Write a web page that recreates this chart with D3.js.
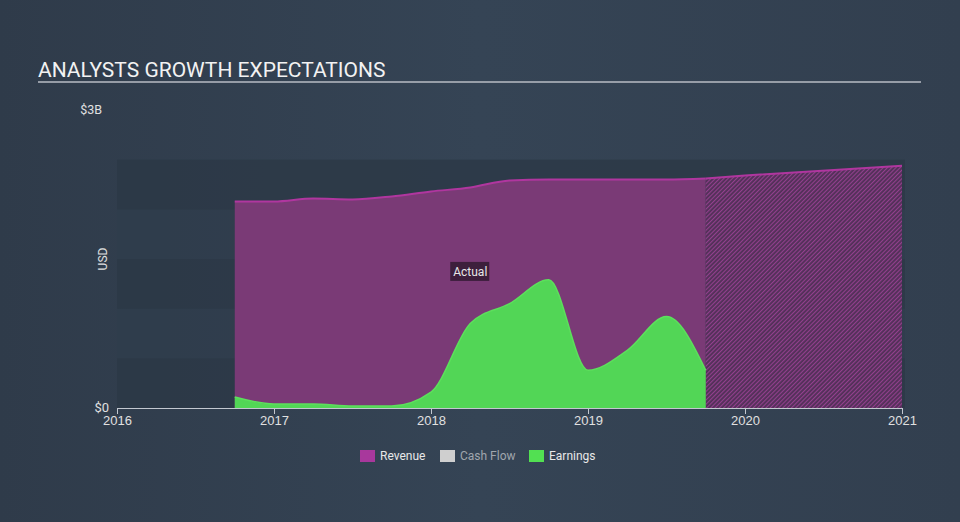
<!DOCTYPE html>
<html>
<head>
<meta charset="utf-8">
<script src="https://cdn.jsdelivr.net/npm/d3@7"></script>
<style>
  body { margin: 0; background: #333f4f; font-family: Roboto, "Open Sans", sans-serif; }
  svg { display: block; }
</style>
</head>
<body>
<div class="canvas"></div>
<script>
// fractional years
const revenueDates = [2016.75, 2017.0, 2017.25, 2017.5, 2017.75, 2018.0, 2018.25, 2018.5, 2018.75, 2019.0, 2019.25, 2019.5, 2019.75]
const revenueValues = [2.08, 2.08, 2.11, 2.10, 2.13, 2.18, 2.22, 2.29, 2.30, 2.30, 2.30, 2.30, 2.31]
const forecastDates = [2019.75, 2020.0, 2021.0]
const forecastValues = [2.31, 2.34, 2.44]
const earningsDates = [2016.75, 2017.0, 2017.25, 2017.5, 2017.75, 2018.0, 2018.25, 2018.5, 2018.75, 2019.0, 2019.25, 2019.5, 2019.75]
const earningsValues = [0.11, 0.04, 0.04, 0.02, 0.02, 0.16, 0.85, 1.05, 1.29, 0.38, 0.58, 0.92, 0.38]
const yearTicks = [2016, 2017, 2018, 2019, 2020, 2021]
const legendItems = ["Revenue", "Cash Flow", "Earnings"]

const width = 960, height = 522
const margin = {top: 110, right: 58, bottom: 114, left: 117}
const graphWidth = width - margin.left - margin.right
const graphHeight = height - margin.top - margin.bottom

const svg = d3.select(".canvas").append("svg").attr("width", width).attr("height", height)

const grad = svg.append("defs").append("linearGradient").attr("id", "bg")
  .attr("x1", 0).attr("x2", 1).attr("y1", 0).attr("y2", 0)
grad.append("stop").attr("offset", "0%").attr("stop-color", "#2f3b4a")
grad.append("stop").attr("offset", "50%").attr("stop-color", "#354455")
grad.append("stop").attr("offset", "100%").attr("stop-color", "#323f4f")
svg.append("rect").attr("width", width).attr("height", height).attr("fill", "url(#bg)")

const pattern = svg.select("defs").append("pattern").attr("id", "hatch")
  .attr("patternUnits", "userSpaceOnUse").attr("width", 3).attr("height", 3)
  .attr("patternTransform", "rotate(45)")
pattern.append("rect").attr("width", 3).attr("height", 3).attr("fill", "#523058")
pattern.append("rect").attr("width", 1.1).attr("height", 3).attr("fill", "#93408e")

// title
svg.append("text").attr("x", 38).attr("y", 77).attr("fill", "#f2f2f2")
  .attr("font-size", 21).text("ANALYSTS GROWTH EXPECTATIONS")
svg.append("line").attr("x1", 38).attr("x2", 921).attr("y1", 82).attr("y2", 82)
  .attr("stroke", "#b8bdc4").attr("stroke-width", 1.5)

const graph = svg.append("g").attr("transform", `translate(${margin.left}, ${margin.top})`)

const x = d3.scaleLinear().domain([2016, 2021]).range([0, graphWidth])
const y = d3.scaleLinear().domain([0, 3]).range([graphHeight, 0])

// background bands
const bands = d3.range(0, 2.5, 0.5)
graph.selectAll(".band").data(bands).enter().append("rect")
  .attr("x", 0).attr("width", graphWidth + 3)
  .attr("y", d => y(d + 0.5)).attr("height", d => y(d) - y(d + 0.5))
  .attr("fill", (d, i) => i % 2 === 0 ? "#2c3846" : "#303d4c")
  .attr("opacity", 0.8)

const curve = d3.curveMonotoneX
const revenue = revenueDates.map((d, i) => ({date: d, value: revenueValues[i]}))
const forecast = forecastDates.map((d, i) => ({date: d, value: forecastValues[i]}))
const earnings = earningsDates.map((d, i) => ({date: d, value: earningsValues[i]}))

const area = d3.area().x(d => x(d.date)).y0(y(0)).y1(d => y(d.value)).curve(curve)
const line = d3.line().x(d => x(d.date)).y(d => y(d.value)).curve(curve)

graph.append("path").datum(revenue).attr("d", area).attr("fill", "#7a3a76")
graph.append("path").datum(forecast).attr("d", d3.area().x(d => x(d.date)).y0(y(0)).y1(d => y(d.value))).attr("fill", "url(#hatch)")
graph.append("path").datum(revenue).attr("d", line).attr("fill", "none").attr("stroke", "#b0369f").attr("stroke-width", 2)
graph.append("path").datum(forecast).attr("d", d3.line().x(d => x(d.date)).y(d => y(d.value))).attr("fill", "none").attr("stroke", "#b0369f").attr("stroke-width", 2)

graph.append("path").datum(earnings).attr("d", area).attr("fill", "#52d656")
graph.append("path").datum(earnings).attr("d", line).attr("fill", "none").attr("stroke", "#5ce05c").attr("stroke-width", 1.5)

// actual label
const lab = graph.append("g").attr("transform", `translate(${x(2018.25)}, ${y(1.37)})`)
lab.append("rect").attr("x", -20).attr("y", -10).attr("width", 39).attr("height", 19).attr("fill", "#3d1f3c")
lab.append("text").attr("text-anchor", "middle").attr("dy", 4).attr("fill", "#e8e8e8").attr("font-size", 12).text("Actual")

// axes
const xAxis = d3.axisBottom(x).tickValues(yearTicks).tickFormat(d3.format("d")).tickSize(6).tickSizeOuter(0)
const xAxisGroup = graph.append("g").attr("transform", `translate(0, ${graphHeight})`).call(xAxis)
xAxisGroup.select(".domain").attr("stroke", "#c3c8d0")
xAxisGroup.selectAll(".tick line").attr("stroke", "#c3c8d0")
xAxisGroup.selectAll("text").attr("fill", "#e0e0e0").attr("font-size", 13).attr("y", 8)

graph.append("text").attr("x", -8).attr("y", y(0)).attr("dy", 4).attr("text-anchor", "end")
  .attr("fill", "#e0e0e0").attr("font-size", 13).text("$0")
graph.append("text").attr("x", -15).attr("y", y(3)).attr("dy", 4).attr("text-anchor", "end")
  .attr("fill", "#e0e0e0").attr("font-size", 12.5).text("$3B")
graph.append("text").attr("transform", `translate(-10, ${y(1.5)}) rotate(-90)`).attr("text-anchor", "middle")
  .attr("fill", "#e0e0e0").attr("font-size", 12).text("USD")

// legend
const legendColors = ["#a8389c", "#cfcfcf", "#52e052"]
const legendText = ["#e8e8e8", "#a0a6ad", "#e8e8e8"]
const legendX = [360, 440, 529]
const legend = svg.append("g").attr("transform", "translate(0, 456)")
legendItems.forEach((name, i) => {
  legend.append("rect").attr("x", legendX[i]).attr("y", -6).attr("width", 15).attr("height", 12).attr("fill", legendColors[i])
  legend.append("text").attr("x", legendX[i] + 20).attr("y", 4).attr("fill", legendText[i]).attr("font-size", 12).text(name)
})
</script>
</body>
</html>
